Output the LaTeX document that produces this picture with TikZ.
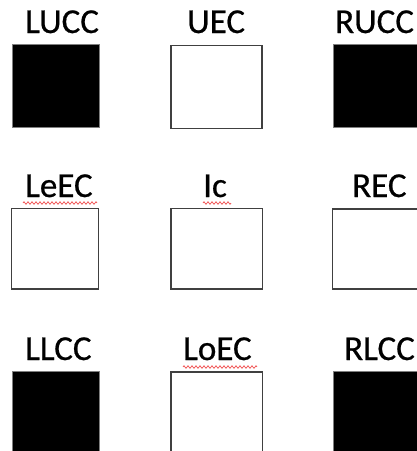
\documentclass[tikz,border=0pt]{standalone}
\usepackage{fontspec}
\setmainfont{Carlito}
\newfontfamily\lblfont[BoldFont={Carlito},BoldFeatures={FakeBold=0.6}]{Carlito}
\usetikzlibrary{decorations.pathmorphing}
\definecolor{edgegrey}{HTML}{404040}
\definecolor{blackedge}{HTML}{7F7F7F}
\definecolor{squig}{HTML}{F05050}
\begin{document}
\begin{tikzpicture}[x=1pt,y=-1pt,
  lbl/.style={anchor=base west,inner sep=0pt,font=\lblfont\bfseries\fontsize{35}{40}\selectfont},
  blackbox/.style={fill=black,draw=blackedge,line width=0.8pt},
  whitebox/.style={fill=white,draw=edgegrey,line width=1.5pt},
  spell/.style={draw=squig,line width=0.7pt,decorate,decoration={zigzag,segment length=4pt,amplitude=1.3pt}}]
\useasboundingbox (0,0) rectangle (417,451);
\clip (0,0) rectangle (417,451);
% row 1
\node[lbl] (tLUCC) at (25,33) {LUCC};
\node[lbl] (tUEC) at (187,33) {UEC};
\node[lbl] (tRUCC) at (335,33) {RUCC};
\draw[blackbox] (12,44) rectangle (99,127);
\draw[whitebox] (171,45.5) rectangle (262,128.5);
\draw[blackbox] (333,44) rectangle (430,127);
% row 2
\node[lbl] (tLeEC) at (25,197) {LeEC};
\node[lbl] (tIc) at (203,197) {Ic};
\node[lbl] (tREC) at (352,197) {REC};
\draw[spell] (23,203) -- (97,203);
\draw[spell] (203,203) -- (231,203);
\draw[whitebox] (11.5,208.5) rectangle (98.5,289);
\draw[whitebox] (171,208.5) rectangle (262.5,289);
\draw[whitebox] (332.5,209) rectangle (430,289);
% row 3
\node[lbl] (tLLCC) at (25,360) {LLCC};
\node[lbl] (tLoEC) at (183,360) {LoEC};
\node[lbl] (tRLCC) at (344,360) {RLCC};
\draw[spell] (183,367) -- (257,367);
\draw[blackbox] (12,371) rectangle (99,460);
\draw[whitebox] (171,372) rectangle (262.5,460);
\draw[blackbox] (333,371) rectangle (430,460);
\end{tikzpicture}
\end{document}
